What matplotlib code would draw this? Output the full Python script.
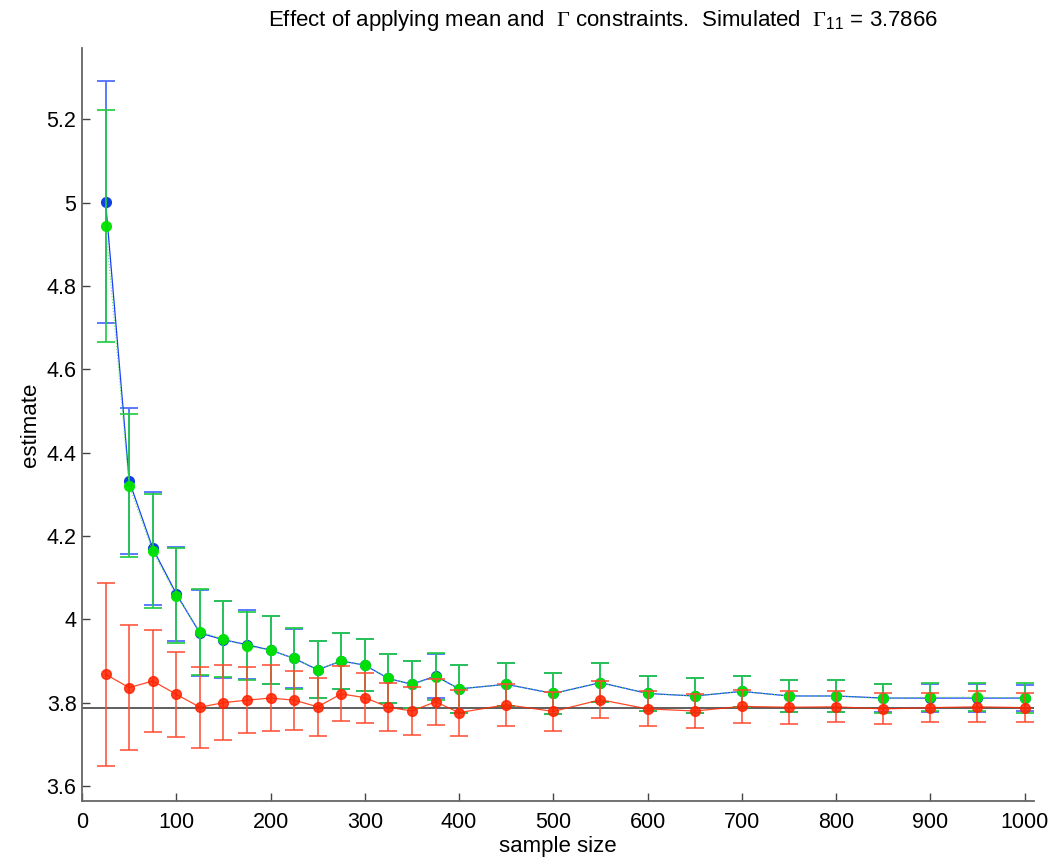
import matplotlib
matplotlib.use('Agg')
import matplotlib.pyplot as plt
from matplotlib.ticker import FuncFormatter

plt.rcParams['font.family'] = ['Liberation Sans', 'DejaVu Sans']
plt.rcParams['mathtext.fontset'] = 'custom'
plt.rcParams['mathtext.rm'] = 'Liberation Serif'
plt.rcParams['mathtext.sf'] = 'Liberation Sans'

# sample sizes
n = [25, 50, 75, 100, 125, 150, 175, 200, 225, 250, 275, 300, 325, 350,
     375, 400, 450, 500, 550, 600, 650, 700, 750, 800, 850, 900, 950, 1000]

# unconstrained estimate
blue_mean = [5.001, 4.332, 4.170, 4.061, 3.967, 3.951, 3.939, 3.926, 3.906, 3.879,
             3.900, 3.890, 3.858, 3.844, 3.864, 3.833, 3.844, 3.822, 3.848, 3.822,
             3.816, 3.827, 3.816, 3.816, 3.811, 3.811, 3.811, 3.811]
blue_err = [0.290, 0.175, 0.136, 0.112, 0.103, 0.092, 0.083, 0.081, 0.071, 0.068,
            0.068, 0.063, 0.058, 0.056, 0.053, 0.057, 0.051, 0.050, 0.047, 0.042,
            0.042, 0.037, 0.039, 0.039, 0.034, 0.034, 0.034, 0.032]

# mean constrained
green_mean = [4.944, 4.321, 4.164, 4.057, 3.970, 3.953, 3.936, 3.926, 3.906, 3.879,
              3.900, 3.890, 3.858, 3.844, 3.862, 3.833, 3.844, 3.822, 3.848, 3.822,
              3.816, 3.827, 3.816, 3.816, 3.810, 3.813, 3.813, 3.811]
green_err = [0.279, 0.172, 0.136, 0.113, 0.103, 0.092, 0.082, 0.081, 0.073, 0.068,
             0.068, 0.063, 0.058, 0.056, 0.056, 0.057, 0.051, 0.050, 0.047, 0.042,
             0.042, 0.037, 0.039, 0.039, 0.034, 0.034, 0.034, 0.037]

# mean and Gamma constrained
red_mean = [3.868, 3.836, 3.852, 3.820, 3.789, 3.800, 3.806, 3.811, 3.806, 3.790,
            3.821, 3.812, 3.789, 3.780, 3.802, 3.776, 3.795, 3.779, 3.807, 3.785,
            3.780, 3.791, 3.789, 3.790, 3.785, 3.788, 3.790, 3.788]
red_err = [0.219, 0.150, 0.123, 0.102, 0.097, 0.090, 0.079, 0.079, 0.071, 0.069,
           0.066, 0.060, 0.057, 0.057, 0.055, 0.055, 0.050, 0.047, 0.045, 0.042,
           0.040, 0.040, 0.040, 0.037, 0.037, 0.035, 0.037, 0.035]

gamma_true = 3.7866

fig = plt.figure(figsize=(10.56, 8.64), dpi=100)
ax = fig.add_axes([0.0777, 0.0729, 0.9015, 0.8712])

ax.axhline(gamma_true, color='#333333', lw=1.1, zorder=1)

ax.errorbar(n, blue_mean, yerr=blue_err, color='#1a3cff', ecolor='#4f70ff',
            elinewidth=1.3, capsize=6.3, capthick=1.3, lw=0.9, marker='o',
            ms=7, mec='#1040e0', mfc='#1040e0', zorder=2)
ax.errorbar(n, green_mean, yerr=green_err, color='#44ee44', ecolor='#22cc44',
            elinewidth=1.3, capsize=6.3, capthick=1.3, lw=0.8, ls=':', marker='o',
            ms=7, mec='#00e400', mfc='#00e400', alpha=0.95, zorder=3)
ax.errorbar(n, red_mean, yerr=red_err, color='#ff2a00', ecolor='#ff4a30',
            elinewidth=1.3, capsize=6.3, capthick=1.3, lw=0.9, marker='o',
            ms=7, mec='#ff2200', mfc='#ff2200', alpha=0.85, zorder=4)

ax.set_xlim(0, 1010)
ax.set_ylim(3.564, 5.37)
ax.set_xticks(range(0, 1001, 100))
ax.set_yticks([3.6, 3.8, 4.0, 4.2, 4.4, 4.6, 4.8, 5.0, 5.2])
ax.yaxis.set_major_formatter(FuncFormatter(lambda v, p: '%g' % round(v, 2)))

for s in ['top', 'right']:
    ax.spines[s].set_visible(False)
for s in ['left', 'bottom']:
    ax.spines[s].set_color('#666666')
    ax.spines[s].set_linewidth(1.3)
ax.tick_params(direction='in', length=6, width=1, color='#444444', labelsize=15.5)
ax.tick_params(axis='x', pad=8)
ax.tick_params(axis='y', pad=4)

ax.set_xlabel('sample size', fontsize=16, labelpad=2)
ax.set_ylabel('estimate', fontsize=16, labelpad=4)

fig.text(0.571, 0.976,
         r'Effect of applying mean and  $\Gamma$ constraints.  Simulated  $\Gamma_{\mathsf{11}}$ = 3.7866',
         ha='center', va='center', fontsize=16)

fig.savefig('out.png', dpi=100)
